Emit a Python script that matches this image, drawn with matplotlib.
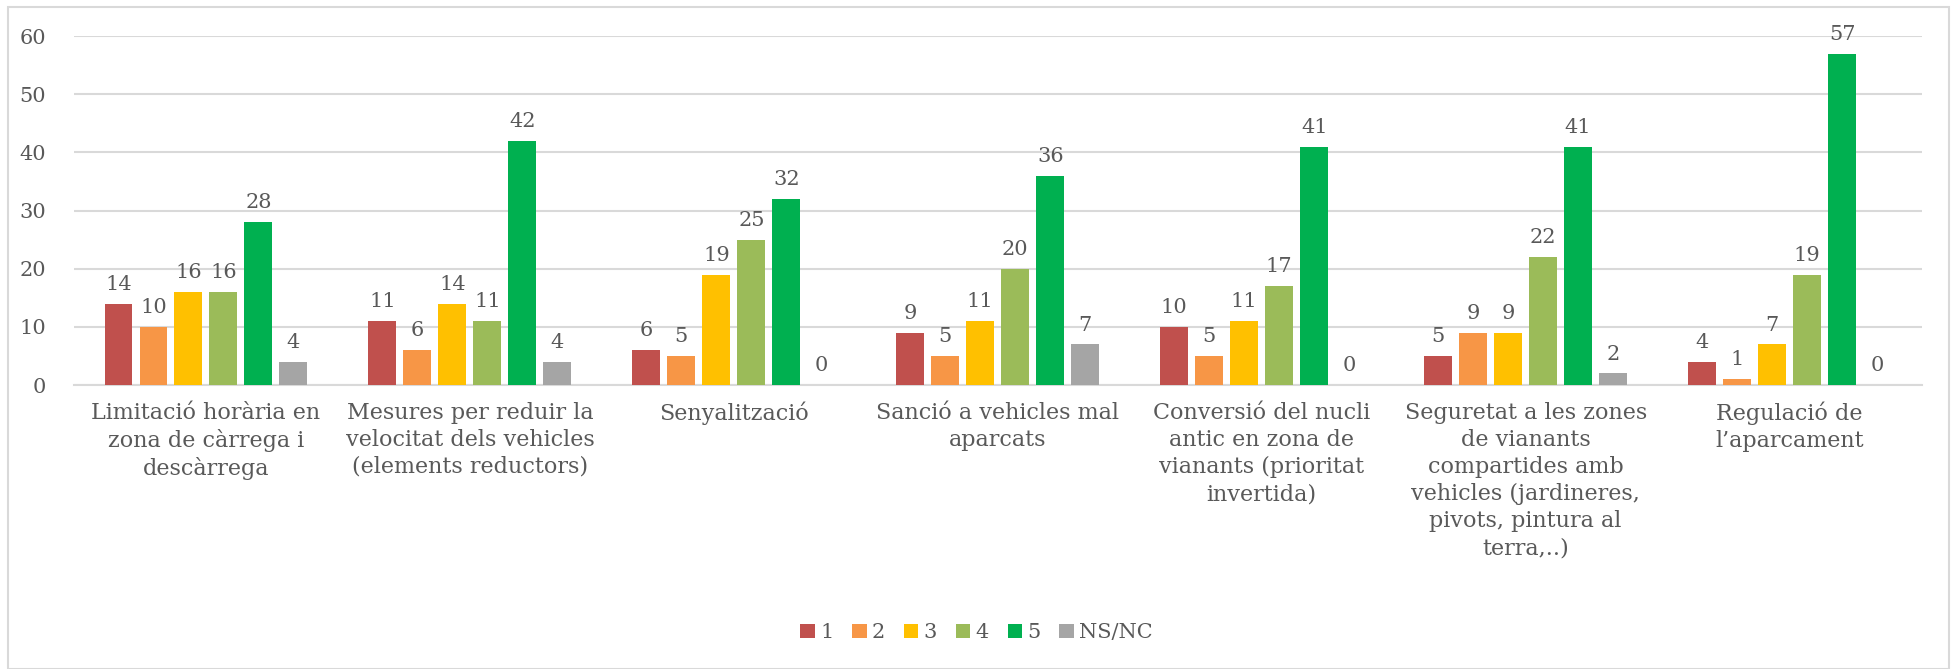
import numpy as np
import matplotlib
matplotlib.use("Agg")
import matplotlib.pyplot as plt
from matplotlib.patches import Rectangle

categories = [
    "Limitació horària en\nzona de càrrega i\ndescàrrega",
    "Mesures per reduir la\nvelocitat dels vehicles\n(elements reductors)",
    "Senyalització",
    "Sanció a vehicles mal\naparcats",
    "Conversió del nucli\nantic en zona de\nvianants (prioritat\ninvertida)",
    "Seguretat a les zones\nde vianants\ncompartides amb\nvehicles (jardineres,\npivots, pintura al\nterra,..)",
    "Regulació de\nl’aparcament",
]
series_names = ["1", "2", "3", "4", "5", "NS/NC"]
s1 = [14, 11, 6, 9, 10, 5, 4]
s2 = [10, 6, 5, 5, 5, 9, 1]
s3 = [16, 14, 19, 11, 11, 9, 7]
s4 = [16, 11, 25, 20, 17, 22, 19]
s5 = [28, 42, 32, 36, 41, 41, 57]
s_ns = [4, 4, 0, 7, 0, 2, 0]
series = [s1, s2, s3, s4, s5, s_ns]
colors = ["#C0504D", "#F79646", "#FFC000", "#9BBB59", "#00B050", "#A5A5A5"]

text_color = "#595959"
plt.rcParams['font.family'] = ['DejaVu Serif']

fig = plt.figure(figsize=(19.53, 6.69), dpi=100)
ax = fig.add_axes([0.0379, 0.4245, 0.946, 0.5215])

x = np.arange(len(categories))
step = 0.1326
width = 0.106
for i, (vals, col, name) in enumerate(zip(series, colors, series_names)):
    pos = x + (i - 2.5) * step
    ax.bar(pos, vals, width=width, color=col, label=name, zorder=3)
    for p, v in zip(pos, vals):
        ax.annotate(str(v), (p, v), xytext=(0, 7), textcoords="offset points",
                    ha="center", va="bottom", fontsize=15, color=text_color)

ax.set_xlim(-0.5, len(categories) - 0.5)
ax.set_ylim(0, 60)
ax.set_yticks(range(0, 61, 10))
ax.yaxis.grid(True, color="#D9D9D9", linewidth=1.5, zorder=0)
ax.set_axisbelow(True)
for s in ["top", "right", "left"]:
    ax.spines[s].set_visible(False)
ax.spines["bottom"].set_color("#D9D9D9")
ax.spines["bottom"].set_linewidth(1.5)
ax.tick_params(axis="both", length=0, labelsize=15, colors=text_color)
ax.tick_params(axis="y", pad=20)
ax.set_xticks(x)
ax.set_xticklabels(categories, fontsize=16, color=text_color, linespacing=1.3)
ax.tick_params(axis="x", pad=12)

fig.legend(loc="center", bbox_to_anchor=(0.5, 0.054), ncol=6, frameon=False,
           fontsize=15, handlelength=0.7, handleheight=0.7, handletextpad=0.25,
           columnspacing=0.9, labelcolor=text_color)

fig.patches.append(Rectangle((0.004, 0.0), 0.994, 0.99, transform=fig.transFigure,
                             fill=False, edgecolor="#D9D9D9", linewidth=1.5))

fig.savefig("out.png", dpi=100, facecolor="white")
